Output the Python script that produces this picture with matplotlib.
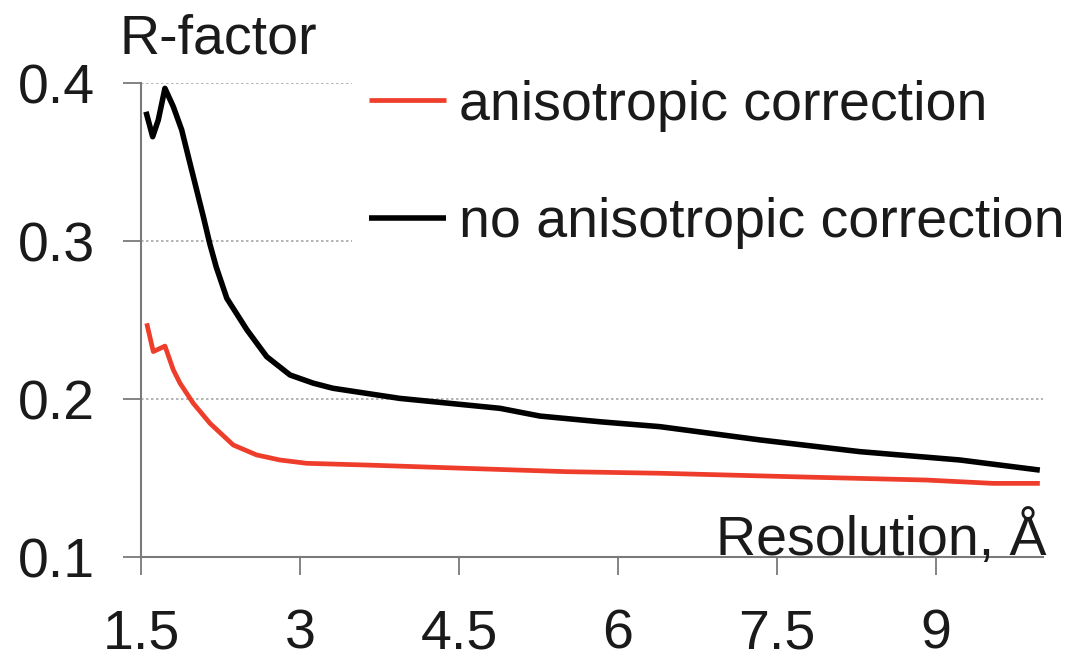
import numpy as np
import matplotlib
matplotlib.use("Agg")
import matplotlib.pyplot as plt

plt.rcParams['font.family'] = ['Liberation Sans', 'DejaVu Sans']

# kurven
res_aniso = [1.554, 1.616, 1.726, 1.805, 1.868, 1.993, 2.151, 2.37, 2.59, 2.81, 3.063,
             3.63, 4.57, 5.516, 6.4, 7.65, 8.91, 9.54, 9.98]
r_aniso = [0.2479, 0.230, 0.2335, 0.2184, 0.210, 0.1973, 0.1846, 0.1709, 0.1646, 0.1614, 0.1593,
           0.1582, 0.1561, 0.154, 0.153, 0.1508, 0.1487, 0.1466, 0.1466]

res_noaniso = [1.547, 1.61, 1.663, 1.726, 1.805, 1.884, 1.962, 2.025, 2.088, 2.15, 2.21,
               2.31, 2.50, 2.686, 2.906, 3.126, 3.31, 3.94, 4.887, 5.264, 5.83, 6.396,
               7.34, 8.28, 9.226, 9.98]
r_noaniso = [0.3818, 0.366, 0.3766, 0.3966, 0.385, 0.3703, 0.3492, 0.3323, 0.3154, 0.298, 0.2835,
             0.2637, 0.2437, 0.2268, 0.2152, 0.210, 0.2068, 0.2004, 0.1941, 0.1892, 0.1856, 0.1825,
             0.1741, 0.1667, 0.1614, 0.155]

xticks = [1.5, 3, 4.5, 6, 7.5, 9]
xticklabels = ['1.5', '3', '4.5', '6', '7.5', '9']
yticks = [0.1, 0.2, 0.3, 0.4]
yticklabels = ['0.1', '0.2', '0.3', '0.4']

W, H = 1069, 664
fig = plt.figure(figsize=(W / 100, H / 100), dpi=100)
ax = fig.add_axes([141 / W, 1 - 557 / H, (1043 - 141) / W, (557 - 83) / H])

# gitterlinien
for yv in yticks[1:]:
    ax.axhline(yv, color='#a8a8a8', lw=1.2, ls=(0, (1.5, 1.5)), zorder=1)

ax.plot(res_aniso, r_aniso, color='#ee3d2a', lw=3.4, label='anisotropic correction', zorder=3,
        solid_joinstyle='round', solid_capstyle='butt')
ax.plot(res_noaniso, r_noaniso, color='black', lw=4.0, label='no anisotropic correction', zorder=3,
        solid_joinstyle='round', solid_capstyle='butt')

ax.set_xlim(1.5, 10.01)
ax.set_ylim(0.1, 0.4)
ax.set_xticks(xticks)
ax.set_xticklabels(xticklabels)
ax.set_yticks(yticks)
ax.set_yticklabels(yticklabels)

for s in ['top', 'right']:
    ax.spines[s].set_visible(False)
for s in ['left', 'bottom']:
    ax.spines[s].set_color('#7a7a7a')
    ax.spines[s].set_linewidth(1.5)

ax.tick_params(axis='both', direction='out', length=13, width=1.3, color='#7a7a7a',
               labelsize=40, labelcolor='#1a1a1a')
ax.tick_params(axis='y', pad=20)
ax.tick_params(axis='x', pad=24)

leg = fig.legend(loc='upper left', bbox_to_anchor=(352 / W, 1 - 63 / H),
                 bbox_transform=fig.transFigure, fontsize=40, frameon=True,
                 facecolor='white', edgecolor='none', framealpha=1, fancybox=False,
                 handlelength=1.4, handletextpad=0.23, labelspacing=1.18,
                 borderpad=0.3, borderaxespad=0)
for t in leg.get_texts():
    t.set_color('#1a1a1a')

fig.text(120 / W, 1 - 53 / H, 'R-factor', fontsize=40, color='#1a1a1a', va='baseline', ha='left')
fig.text(1046 / W, 1 - 555 / H, 'Resolution, Å', fontsize=40, color='#1a1a1a',
         va='baseline', ha='right')

fig.savefig('out.png', dpi=100, facecolor='white')
